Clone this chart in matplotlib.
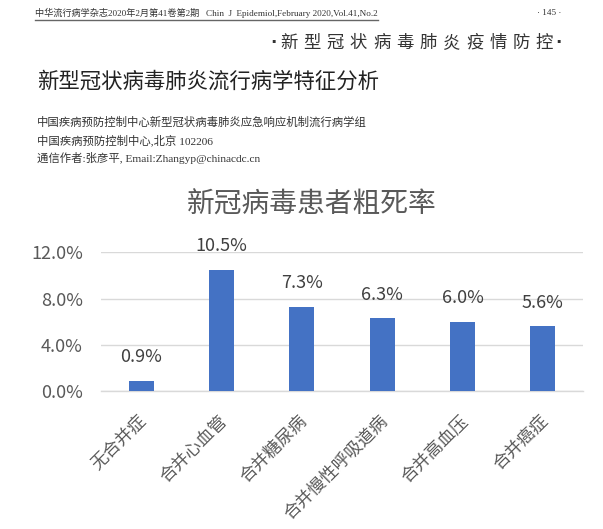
import matplotlib
matplotlib.use("Agg")
import matplotlib.pyplot as plt
from matplotlib.lines import Line2D

plt.rcParams['font.family'] = ['Noto Sans CJK SC', 'DejaVu Sans']

# ---- data ----
categories = ['无合并症', '合并心血管', '合并糖尿病', '合并慢性呼吸道病', '合并高血压', '合并癌症']
death_rate = [0.9, 10.5, 7.3, 6.3, 6.0, 5.6]   # percent
y_ticks = [0.0, 4.0, 8.0, 12.0]
chart_title = '新冠病毒患者粗死率'

journal_line = '中华流行病学杂志2020年2月第41卷第2期   Chin  J  Epidemiol,February 2020,Vol.41,No.2'
page_no = '· 145 ·'
column_title = '新型冠状病毒肺炎疫情防控'
paper_title = '新型冠状病毒肺炎流行病学特征分析'
affil_lines = ['中国疾病预防控制中心新型冠状病毒肺炎应急响应机制流行病学组',
               '中国疾病预防控制中心,北京 102206',
               '通信作者:张彦平, Email:Zhangyp@chinacdc.cn']

W, H = 603, 529
fig = plt.figure(figsize=(W / 100, H / 100), dpi=100)
fig.patch.set_facecolor('white')


def fx(px):
    return px / W


def fy(py):
    return 1 - py / H


serif_mix = ['Liberation Serif', 'Noto Sans CJK SC']

# ---- journal header ----
fig.text(fx(35), fy(12.5), journal_line, fontsize=6.6, family=serif_mix,
         color='#333333', ha='left', va='center')
fig.add_artist(Line2D([fx(35), fx(378)], [fy(20), fy(20)], transform=fig.transFigure,
                      color='#666666', lw=1.0))
fig.text(fx(549), fy(13), page_no, fontsize=6.6, family=['Liberation Serif', 'DejaVu Sans'],
         color='#333333', ha='center', va='center')

# column heading with wide letter spacing
fig.text(fx(273), fy(43), '·', fontsize=12, family='DejaVu Sans', fontweight='bold',
         color='#333333', ha='center', va='center')
for k, ch in enumerate(column_title):
    fig.text(fx(289 + 23.2 * k), fy(43), ch, fontsize=12.5, color='#333333',
             ha='center', va='center', fontweight='light')
fig.text(fx(558), fy(43), '·', fontsize=12, family='DejaVu Sans', fontweight='bold',
         color='#333333', ha='center', va='center')

fig.text(fx(37), fy(82), paper_title, fontsize=15.4, color='#222222',
         ha='left', va='center', fontweight='medium')

for k, line in enumerate(affil_lines):
    fig.text(fx(37), fy(122 + 18 * k), line, fontsize=8.2, family=serif_mix,
             color='#333333', ha='left', va='center')

# ---- chart ----
ax = fig.add_axes([fx(101), fy(391), fx(583) - fx(101), fy(252.3) - fy(391)])
x = list(range(len(categories)))
ax.bar(x, death_rate, width=0.31, color='#4472C4', zorder=3)
ax.set_xlim(-0.5, len(categories) - 0.5)
ax.set_ylim(0, 12)
ax.set_yticks(y_ticks)
ax.set_yticklabels([f'{v:.1f}%' for v in y_ticks], fontsize=13, color='#595959',
                   fontweight='light')
ax.tick_params(axis='y', length=0, pad=13)
ax.set_xticks(x)
ax.set_xticklabels([])
ax.tick_params(axis='x', length=0)
ax.grid(axis='y', color='#D9D9D9', lw=1.0, zorder=0)
for s in ['top', 'right', 'left']:
    ax.spines[s].set_visible(False)
ax.spines['bottom'].set_color('#D9D9D9')
ax.spines['bottom'].set_linewidth(1.0)

for i, v in enumerate(death_rate):
    ax.annotate(f'{v:.1f}%', xy=(i, v), xytext=(0, 17), textcoords='offset points',
                ha='center', va='center', fontsize=13, color='#404040',
                fontweight='light', annotation_clip=False)

for i, c in enumerate(categories):
    ax.annotate(c, xy=(i, 0), xycoords=('data', 'axes fraction'), xytext=(2.2, -19.8),
                textcoords='offset points', rotation=45, ha='right', va='center',
                rotation_mode='anchor', fontsize=12.5, color='#595959',
                annotation_clip=False)

fig.text(fx(312), fy(205), chart_title, fontsize=20, color='#595959',
         ha='center', va='center')

fig.savefig('out.png', dpi=100)
